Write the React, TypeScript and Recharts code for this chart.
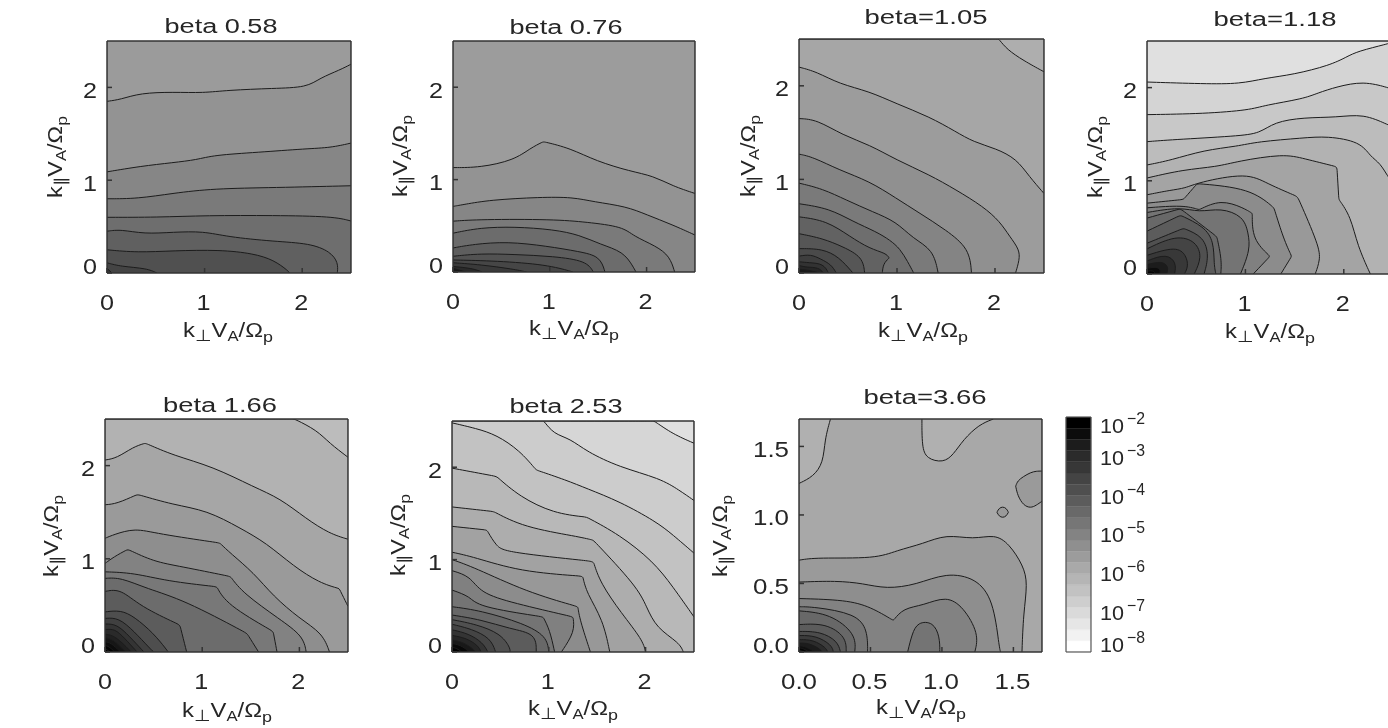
import React from "react";
import { ComposedChart, Area, XAxis, YAxis, ReferenceArea, Bar } from "recharts";

type Pt = [number, number];

// ---------- data: contour lines, outermost first ----------
const p1Contours: Pt[][] = [
  [[0,1.85],[0.14,1.87],[0.34,1.94],[0.68,1.95],[0.99,1.94],[1.23,1.97],[1.71,1.99],[2.05,2.0],[2.18,2.1],[2.39,2.19],[2.5,2.25]],
  [[0,1.09],[0.34,1.15],[0.68,1.19],[0.92,1.22],[1.09,1.27],[1.54,1.3],[2.05,1.34],[2.29,1.35],[2.5,1.4]],
  [[0,0.8],[0.31,0.8],[0.68,0.86],[1.09,0.91],[1.71,0.92],[2.5,0.94]],
  [[0,0.6],[0.51,0.6],[1.02,0.62],[1.71,0.62],[2.32,0.61],[2.5,0.56]],
  [[0,0.45],[0.14,0.47],[0.38,0.42],[0.68,0.44],[0.99,0.45],[1.23,0.39],[1.71,0.34],[2.08,0.32],[2.29,0.23],[2.37,0.11],[2.36,0]],
  [[0,0.25],[0.31,0.22],[0.68,0.24],[1.16,0.25],[1.5,0.21],[1.71,0.14],[1.86,0.02],[1.87,0]],
  [[0,0.11],[0.14,0.07],[0.41,0.05],[0.51,0]],
  [[0,0.05],[0.05,0]],
];
const p1Grays = ["#9b9b9b","#939393","#868686","#7a7a7a","#6e6e6e","#606060","#505050","#444444","#383838"];

const p2Contours: Pt[][] = [
  [[0,1.13],[0.28,1.13],[0.63,1.21],[0.8,1.34],[0.93,1.41],[0.94,1.41],[1.21,1.34],[1.48,1.2],[1.83,1.09],[2.07,1.04],[2.27,0.93],[2.5,0.85]],
  [[0,0.71],[0.11,0.73],[0.38,0.78],[0.9,0.81],[1.24,0.81],[1.45,0.76],[1.79,0.71],[2.0,0.62],[2.27,0.51],[2.5,0.4]],
  [[0,0.55],[0.28,0.57],[1.04,0.57],[1.38,0.54],[1.76,0.49],[1.86,0.39],[2.1,0.28],[2.24,0.17],[2.29,0]],
  [[0,0.42],[0.28,0.48],[0.63,0.49],[1.04,0.46],[1.31,0.4],[1.52,0.3],[1.76,0.22],[1.86,0.06],[1.89,0]],
  [[0,0.26],[0.21,0.3],[0.56,0.33],[0.97,0.28],[1.31,0.22],[1.52,0.17],[1.57,0]],
  [[0,0.17],[0.28,0.2],[0.63,0.19],[1.04,0.17],[1.38,0.12],[1.45,0]],
  [[0,0.13],[0.45,0.12],[0.97,0.08],[1.24,0]],
  [[0,0.1],[0.28,0.08],[0.63,0.03],[0.76,0]],
  [[0,0.06],[0.2,0.04],[0.3,0]],
  [[0,0.04],[0.13,0]],
  [[0,0.02],[0.07,0]],
];
const p2Grays = ["#9c9c9c","#939393","#868686","#7a7a7a","#6c6c6c","#5e5e5e","#525252","#464646","#3a3a3a","#2a2a2a","#181818","#080808"];

const p3Contours: Pt[][] = [
  [[0,2.5],[1.9,2.5],[2.03,2.5],[2.04,2.5],[2.12,2.39],[2.29,2.27],[2.5,2.15]],
  [[0,2.2],[0.18,2.15],[0.41,2.02],[0.72,1.94],[0.99,1.81],[1.33,1.67],[1.6,1.51],[1.78,1.4],[2.01,1.33],[2.22,1.22],[2.35,1.03],[2.5,0.85]],
  [[0,1.65],[0.18,1.64],[0.45,1.47],[0.72,1.37],[0.99,1.21],[1.33,1.05],[1.6,0.89],[1.88,0.71],[2.05,0.55],[2.15,0.39],[2.25,0.25],[2.25,0.14],[2.21,0]],
  [[0,1.27],[0.14,1.24],[0.41,1.1],[0.72,0.98],[0.99,0.8],[1.23,0.64],[1.5,0.46],[1.74,0.26],[1.76,0]],
  [[0,0.96],[0.24,0.9],[0.48,0.78],[0.76,0.65],[0.99,0.55],[1.16,0.37],[1.37,0.25],[1.42,0]],
  [[0,0.74],[0.31,0.69],[0.55,0.55],[0.79,0.44],[0.93,0.35],[1.03,0.26],[1.11,0.12],[1.17,0]],
  [[0,0.6],[0.28,0.56],[0.52,0.39],[0.72,0.26],[0.89,0.21],[0.92,0.16],[0.92,0.16],[0.86,0.1],[0.85,0]],
  [[0,0.42],[0.24,0.37],[0.45,0.28],[0.65,0.17],[0.67,0]],
  [[0,0.26],[0.24,0.26],[0.41,0.17],[0.55,0]],
  [[0,0.18],[0.12,0.2],[0.22,0.15],[0.33,0.09],[0.38,0]],
  [[0,0.12],[0.1,0.11],[0.25,0.1],[0.3,0]],
  [[0,0.08],[0.08,0.06],[0.2,0.06],[0.25,0]],
  [[0,0.04],[0.1,0.03],[0.2,0]],
];
const p3Grays = ["#aeaeae","#a6a6a6","#9c9c9c","#909090","#848484","#7a7a7a","#6e6e6e","#626262","#565656","#4a4a4a","#3e3e3e","#323232","#262626","#1a1a1a"];

const p4Contours: Pt[][] = [
  [[0,2.06],[0.58,2.04],[0.95,2.04],[1.19,2.1],[1.49,2.14],[1.86,2.24],[2.03,2.33],[2.14,2.39],[2.45,2.47],[2.5,2.49]],
  [[0,1.71],[0.58,1.72],[1.05,1.76],[1.19,1.81],[1.59,1.88],[1.73,1.94],[1.93,2.01],[2.2,2.07],[2.45,2.0],[2.5,1.98]],
  [[0,1.42],[0.24,1.44],[0.92,1.48],[1.15,1.51],[1.29,1.63],[1.59,1.68],[1.93,1.68],[2.2,1.72],[2.45,1.6],[2.5,1.58]],
  [[0,1.17],[0.24,1.22],[0.58,1.33],[0.92,1.37],[1.12,1.42],[1.59,1.46],[1.83,1.48],[2.17,1.42],[2.27,1.26],[2.37,1.19],[2.45,1.04],[2.5,0.98]],
  [[0,1.03],[0.37,1.12],[0.71,1.15],[0.92,1.21],[1.39,1.29],[1.59,1.24],[1.93,1.15],[1.93,1.15],[1.95,0.8],[1.95,0.8],[2.07,0.62],[2.14,0.3],[2.27,0]],
  [[0,0.85],[0.24,0.9],[0.39,0.92],[0.51,0.98],[1.02,1.09],[1.22,0.97],[1.53,0.83],[1.53,0.83],[1.75,0.3],[1.76,0.15],[1.71,0]],
  [[0,0.76],[0.37,0.8],[0.37,0.8],[0.51,0.97],[0.51,0.97],[1.05,0.92],[1.29,0.71],[1.29,0.71],[1.39,0.37],[1.47,0.19],[1.47,0.19],[1.36,0]],
  [[0,0.71],[0.37,0.74],[0.53,0.69],[0.53,0.69],[0.75,0.8],[0.98,0.71],[1.07,0.65],[1.07,0.65],[1.07,0.37],[1.25,0.19],[1.25,0.19],[1.08,0]],
  [[0,0.66],[0.34,0.72],[0.53,0.66],[0.75,0.71],[0.98,0.62],[1.03,0.44],[1.05,0.26],[0.95,0]],
  [[0,0.6],[0.34,0.7],[0.34,0.7],[0.71,0.4],[0.71,0.4],[0.76,0.15],[0.75,0]],
  [[0,0.46],[0.34,0.63],[0.34,0.63],[0.58,0.51],[0.68,0.35],[0.68,0.1],[0.7,0]],
  [[0,0.33],[0.37,0.49],[0.37,0.49],[0.58,0.4],[0.63,0.19],[0.58,0]],
  [[0,0.27],[0.3,0.42],[0.5,0.35],[0.56,0.18],[0.48,0]],
  [[0,0.2],[0.3,0.3],[0.4,0.2],[0.42,0.08],[0.38,0]],
  [[0,0.14],[0.2,0.22],[0.3,0.12],[0.28,0]],
  [[0,0.1],[0.15,0.14],[0.22,0.08],[0.2,0]],
  [[0,0.06],[0.1,0.08],[0.14,0.04],[0.13,0]],
  [[0,0.03],[0.07,0.04],[0.08,0]],
];
const p4Grays = ["#e0e0e0","#d4d4d4","#c8c8c8","#bcbcbc","#b2b2b2","#a4a4a4","#999999","#8c8c8c","#808080","#747474","#686868","#5c5c5c","#505050","#444444","#383838","#2a2a2a","#1c1c1c","#0c0c0c","#040404"];

const p5Contours: Pt[][] = [
  [[0,2.5],[1.8,2.5],[1.94,2.5],[1.95,2.5],[2.18,2.38],[2.31,2.24],[2.5,2.09]],
  [[0,2.06],[0.12,2.08],[0.29,2.2],[0.41,2.24],[0.42,2.24],[0.7,2.11],[1.11,1.99],[1.53,1.77],[1.8,1.65],[2.07,1.43],[2.31,1.27],[2.5,1.21]],
  [[0,1.58],[0.12,1.59],[0.33,1.69],[0.34,1.69],[0.7,1.58],[1.05,1.52],[1.39,1.33],[1.66,1.17],[1.94,0.92],[2.21,0.74],[2.41,0.68],[2.41,0.68],[2.5,0.49]],
  [[0,1.22],[0.09,1.26],[0.31,1.33],[0.53,1.27],[1.18,1.17],[1.18,1.17],[1.29,1.06],[1.53,0.85],[1.73,0.6],[2.0,0.36],[2.24,0.2],[2.31,0]],
  [[0,0.95],[0.09,1.02],[0.23,1.1],[0.24,1.1],[0.5,0.97],[0.77,0.92],[1.29,0.81],[1.29,0.81],[1.42,0.63],[1.8,0.35],[2.04,0.17],[2.07,0]],
  [[0,0.86],[0.29,0.85],[0.64,0.76],[1.15,0.7],[1.15,0.7],[1.25,0.51],[1.73,0.22],[1.73,0.22],[1.77,0]],
  [[0,0.79],[0.16,0.8],[0.43,0.68],[0.81,0.56],[1.46,0.2],[1.46,0.2],[1.58,0]],
  [[0,0.65],[0.16,0.68],[0.36,0.49],[0.77,0.29],[0.77,0.29],[0.84,0]],
  [[0,0.43],[0.16,0.45],[0.3,0.38],[0.5,0.2],[0.63,0.03],[0.65,0]],
  [[0,0.36],[0.14,0.37],[0.3,0.22],[0.46,0.04],[0.5,0]],
  [[0,0.3],[0.12,0.3],[0.25,0.17],[0.4,0]],
  [[0,0.24],[0.1,0.25],[0.2,0.15],[0.33,0]],
  [[0,0.19],[0.1,0.18],[0.27,0]],
  [[0,0.15],[0.08,0.14],[0.21,0]],
  [[0,0.11],[0.06,0.1],[0.16,0]],
  [[0,0.07],[0.04,0.06],[0.1,0]],
  [[0,0.04],[0.05,0]],
];
const p5Grays = ["#bcbcbc","#b2b2b2","#a6a6a6","#9a9a9a","#8e8e8e","#828282","#787878","#6c6c6c","#5c5c5c","#4e4e4e","#404040","#343434","#2a2a2a","#202020","#161616","#0c0c0c","#040404","#000000"];

const p6Contours: Pt[][] = [
  [[0,2.5],[1.9,2.5],[2.08,2.5],[2.09,2.5],[2.28,2.36],[2.5,2.26]],
  [[0,2.5],[0.8,2.5],[0.94,2.5],[0.95,2.5],[1.05,2.36],[1.22,2.31],[1.39,2.17],[1.73,2.0],[2.15,1.88],[2.35,1.75],[2.5,1.64]],
  [[0,2.48],[0.25,2.42],[0.46,2.35],[0.7,2.18],[0.87,1.97],[0.87,1.97],[1.18,1.86],[1.39,1.77],[1.73,1.63],[2.11,1.41],[2.28,1.27],[2.5,1.07]],
  [[0,1.99],[0.46,1.9],[0.46,1.9],[0.7,1.68],[1.05,1.5],[1.39,1.46],[1.39,1.46],[1.73,1.27],[2.08,0.98],[2.28,0.71],[2.5,0.38]],
  [[0,1.57],[0.43,1.52],[0.43,1.52],[0.74,1.35],[1.3,1.25],[1.46,1.21],[1.46,1.21],[1.91,0.71],[2.01,0.49],[2.11,0.26],[2.35,0.1],[2.39,0]],
  [[0,1.36],[0.36,1.32],[0.36,1.32],[0.46,1.14],[0.56,1.08],[1.46,0.98],[1.46,0.98],[1.53,0.75],[1.75,0.42],[1.97,0.13],[2.0,0]],
  [[0,1.08],[0.22,1.03],[0.7,0.87],[1.35,0.82],[1.35,0.82],[1.39,0.64],[1.56,0.35],[1.63,0]],
  [[0,1.0],[0.22,0.92],[0.77,0.65],[1.3,0.49],[1.3,0.49],[1.32,0.35],[1.43,0]],
  [[0,0.88],[0.19,0.82],[0.29,0.64],[0.63,0.53],[1.25,0.38],[1.25,0.38],[1.27,0.22],[1.13,0]],
  [[0,0.67],[0.19,0.6],[0.26,0.49],[0.94,0.38],[0.94,0.38],[1.01,0.24],[1.06,0]],
  [[0,0.49],[0.29,0.45],[0.74,0.31],[0.98,0.17],[1.0,0]],
  [[0,0.4],[0.3,0.35],[0.6,0.25],[0.87,0.2],[0.87,0]],
  [[0,0.35],[0.25,0.3],[0.5,0.2],[0.6,0.05],[0.6,0]],
  [[0,0.3],[0.2,0.25],[0.4,0.15],[0.45,0]],
  [[0,0.24],[0.17,0.2],[0.32,0.1],[0.37,0]],
  [[0,0.18],[0.15,0.15],[0.27,0.07],[0.3,0]],
  [[0,0.13],[0.1,0.11],[0.2,0.05],[0.24,0]],
  [[0,0.09],[0.07,0.08],[0.15,0.03],[0.17,0]],
  [[0,0.05],[0.05,0.04],[0.1,0]],
];
const p6Grays = ["#e0e0e0","#d6d6d6","#cccccc","#c2c2c2","#b8b8b8","#adadad","#a2a2a2","#989898","#8c8c8c","#808080","#747474","#686868","#5c5c5c","#505050","#444444","#343434","#262626","#181818","#080808","#000000"];

const p7Contours: Pt[][] = [
  [[0,0.67],[0.12,0.69],[0.54,0.68],[0.68,0.74],[0.87,0.79],[1.03,0.86],[1.22,0.82],[1.37,0.86],[1.47,0.79],[1.57,0.63],[1.6,0.5],[1.57,0.28],[1.56,0]],
  [[0,0.51],[0.26,0.52],[0.45,0.5],[0.61,0.46],[0.82,0.49],[1.03,0.58],[1.24,0.54],[1.36,0.38],[1.4,0.04],[1.41,0]],
  [[0,0.39],[0.33,0.38],[0.5,0.33],[0.66,0.23],[0.66,0.23],[0.73,0.32],[0.87,0.34],[1.03,0.41],[1.15,0.33],[1.26,0.13],[1.23,0]],
  [[0.76,0],[0.79,0.13],[0.83,0.22],[0.94,0.22],[0.985,0.11],[0.985,0]],
  [[0,0.33],[0.1,0.33],[0.4,0.28],[0.48,0.16],[0.48,0]],
  [[0,0.3],[0.22,0.28],[0.4,0.13],[0.39,0]],
  [[0,0.2],[0.19,0.21],[0.33,0.11],[0.33,0]],
  [[0,0.15],[0.15,0.15],[0.27,0.08],[0.29,0]],
  [[0,0.12],[0.12,0.12],[0.23,0.05],[0.24,0]],
  [[0,0.09],[0.1,0.09],[0.19,0.03],[0.2,0]],
  [[0,0.065],[0.07,0.065],[0.15,0.02],[0.16,0]],
  [[0,0.045],[0.05,0.04],[0.11,0]],
  [[0,0.03],[0.03,0.025],[0.07,0]],
  [[0,0.015],[0.035,0]],
];
const p7Grays = ["#a8a8a8","#9a9a9a","#8e8e8e","#828282","#747474","#747474","#686868","#5c5c5c","#4c4c4c","#3c3c3c","#2c2c2c","#1c1c1c","#101010","#060606","#000000"];
// regions lighter than their surroundings, hanging from the top edge
const p7TopIslands: Pt[][] = [
  [[0,1.23],[0.1,1.28],[0.17,1.38],[0.18,1.55],[0.22,1.7]],
  [[0.86,1.7],[0.86,1.5],[0.89,1.41],[1.01,1.38],[1.08,1.44],[1.15,1.55],[1.26,1.66],[1.36,1.7]],
];
// closed darker islands: [x, low, high]
const p7ClosedIslands: [number, number, number][][] = [
  [[1.516,1.21,1.21],[1.53,1.14,1.25],[1.57,1.07,1.28],[1.62,1.05,1.31],[1.66,1.07,1.32],[1.7,1.1,1.32]],
  [[1.385,1.02,1.02],[1.4,0.99,1.05],[1.425,0.98,1.06],[1.45,0.99,1.05],[1.465,1.02,1.02]],
];
const p7TopGray = "#b0b0b0";
const p7IslandGray = "#9a9a9a";

const majorTicks25 = [0, 1, 2];
const minorTicks25 = [0.2,0.4,0.6,0.8,1.2,1.4,1.6,1.8,2.2,2.4];
const majorTicks17 = [0, 0.5, 1, 1.5];
const minorTicks17 = [0.1,0.2,0.3,0.4,0.6,0.7,0.8,0.9,1.1,1.2,1.3,1.4,1.6];

const colorbarGrays = ["#ffffff","#f2f2f2","#e6e6e6","#dadada","#cecece","#c2c2c2","#b5b5b5","#a9a9a9","#9c9c9c","#8f8f8f","#838383","#767676","#696969","#5c5c5c","#4f4f4f","#444444","#373737","#2b2b2b","#1c1c1c","#0c0c0c","#000000"];
const colorbarTicks = [0, 1, 2, 3, 4, 5, 6];
const colorbarTop = 6.05;
const colorbarBand = colorbarTop / colorbarGrays.length;
const colorbarRow = [Object.fromEntries(colorbarGrays.map((_, i) => ["b" + i, colorbarBand]))];

// ---------- layout ----------
const FONT = "'Liberation Sans', Arial, sans-serif";
const INK = "#262626";
const ML = 90, MT = 60, MR = 20, MB = 85;
const THIN = 0.01; // an axis needs a size above zero to be drawn

type Panel = {
  l: number; r: number; t: number; b: number;
  title: string; tcx: number; tbase: number; tw: number;
  xcx: number; xbase: number; ybase: number; ycy: number;
  max: number; major: number[]; minor: number[];
  contours: Pt[][]; grays: string[]; fmt: (v: number) => string;
};
const int = (v: number) => String(v);
const one = (v: number) => v.toFixed(1);
const panels: Panel[] = [
  { l:107,r:351,t:41,b:273,title:"beta 0.58",tcx:221,tbase:33,tw:113,xcx:228,xbase:337,ybase:62,ycy:157,max:2.5,major:majorTicks25,minor:minorTicks25,contours:p1Contours,grays:p1Grays,fmt:int },
  { l:453,r:695,t:41,b:272,title:"beta 0.76",tcx:566,tbase:34,tw:113,xcx:574,xbase:335,ybase:407,ycy:156,max:2.5,major:majorTicks25,minor:minorTicks25,contours:p2Contours,grays:p2Grays,fmt:int },
  { l:799,r:1044,t:39,b:273,title:"beta=1.05",tcx:926,tbase:24,tw:123,xcx:923,xbase:337,ybase:755,ycy:156,max:2.5,major:majorTicks25,minor:minorTicks25,contours:p3Contours,grays:p3Grays,fmt:int },
  { l:1147,r:1393,t:41,b:274,title:"beta=1.18",tcx:1275,tbase:26,tw:123,xcx:1270,xbase:338,ybase:1102,ycy:157,max:2.5,major:majorTicks25,minor:minorTicks25,contours:p4Contours,grays:p4Grays,fmt:int },
  { l:105,r:348,t:419,b:652,title:"beta 1.66",tcx:220,tbase:412,tw:114,xcx:227,xbase:717,ybase:58,ycy:536,max:2.5,major:majorTicks25,minor:minorTicks25,contours:p5Contours,grays:p5Grays,fmt:int },
  { l:452,r:694,t:421,b:652,title:"beta 2.53",tcx:566,tbase:413,tw:113,xcx:573,xbase:715,ybase:405,ycy:535,max:2.5,major:majorTicks25,minor:minorTicks25,contours:p6Contours,grays:p6Grays,fmt:int },
  { l:799,r:1042,t:419,b:652,title:"beta=3.66",tcx:925,tbase:404,tw:123,xcx:921,xbase:714,ybase:727,ycy:536,max:1.7,major:majorTicks17,minor:minorTicks17,contours:p7Contours,grays:p7Grays,fmt:one },
];

const labelWidth = (s: string) => (s.length === 1 ? 14 : 36);

const XTick = (fmt: (v: number) => string) => (props: any) => {
  const s = fmt(props.payload.value);
  return (
    <text x={props.x - (props.payload.value > 0 ? 1 : 0)} y={props.y + 42} textAnchor="middle" fontFamily={FONT} fontSize={22.5} fill={INK} textLength={labelWidth(s)} lengthAdjust="spacingAndGlyphs">{s}</text>
  );
};
const YTick = (fmt: (v: number) => string) => (props: any) => {
  const s = fmt(props.payload.value);
  const dy = props.payload.value === 0 ? 1.5 : 10.5;
  return (
    <text x={props.x - 15} y={props.y + dy} textAnchor="end" fontFamily={FONT} fontSize={22.5} fill={INK} textLength={labelWidth(s)} lengthAdjust="spacingAndGlyphs">{s}</text>
  );
};

const AxisName = ({ x, y, rotate, sym }: { x: number; y: number; rotate?: boolean; sym: string }) => (
  <text x={x} y={y} textAnchor="middle" fontFamily={FONT} fontSize={20} fill={INK} textLength={rotate ? 82 : 90} lengthAdjust="spacingAndGlyphs" transform={rotate ? `rotate(-90 ${x} ${y})` : undefined}>
    k<tspan dy={4} fontSize={16}>{sym}</tspan><tspan dy={-4}>V</tspan><tspan dy={4} fontSize={14}>A</tspan><tspan dy={-4}>/Ω</tspan><tspan dy={5} fontSize={15}>p</tspan>
  </text>
);

const PanelChart = ({ p }: { p: Panel }) => {
  const cx = p.l - ML, cy = p.t - MT;
  const W = p.r - p.l + ML + MR, H = p.b - p.t + MT + MB;
  const axis = { type: "number" as const, domain: [0, p.max], allowDataOverflow: true, stroke: INK, interval: 0 as const, tickMargin: 0 };
  const xProps = { ...axis, height: THIN };
  const yProps = { ...axis, width: THIN };
  const line = { stroke: "#333333", strokeWidth: 1.5 };
  const titleLabel = () => (
    <g>
      <text x={p.tcx - cx} y={p.tbase - cy} textAnchor="middle" fontFamily={FONT} fontSize={20} fill={INK} textLength={p.tw} lengthAdjust="spacingAndGlyphs">{p.title}</text>
    </g>
  );
  const xName = () => <AxisName x={p.xcx - cx} y={p.xbase - cy} sym="⊥" />;
  const yName = () => <AxisName x={p.ybase - cx} y={p.ycy - cy} rotate sym="∥" />;
  const isP7 = p.contours === p7Contours;
  return (
    <div style={{ position: "absolute", left: cx, top: cy, width: W, height: H }}>
      <ComposedChart width={W} height={H} margin={{ left: ML, top: MT, right: MR, bottom: MB }}>
        <ReferenceArea xAxisId="b" yAxisId="l" x1={0} x2={p.max} y1={0} y2={p.max} fill={p.grays[0]} fillOpacity={1} stroke="none" />
        {isP7 && p7TopIslands.map((pts, i) => (
          <Area key={"top" + i} xAxisId="b" yAxisId="l" data={pts.map(([x, y]) => ({ x, y }))} dataKey="y" baseValue={p.max} type="basis" fill={p7TopGray} fillOpacity={1} stroke="#1c1c1c" strokeWidth={1} dot={false} activeDot={false} isAnimationActive={false} />
        ))}
        {p.contours.map((pts, i) => (
          <Area key={i} xAxisId="b" yAxisId="l" data={pts.map(([x, y]) => ({ x, y }))} dataKey="y" baseValue={0} type="basis" fill={p.grays[i + 1]} fillOpacity={1} stroke="#1c1c1c" strokeWidth={1} dot={false} activeDot={false} isAnimationActive={false} />
        ))}
        {isP7 && p7ClosedIslands.map((pts, i) => (
          <Area key={"closed" + i} xAxisId="b" yAxisId="l" data={pts.map(([x, lo, hi]) => ({ x, y: [lo, hi] }))} dataKey="y" type="basis" fill={p7IslandGray} fillOpacity={1} stroke="#1c1c1c" strokeWidth={1} dot={false} activeDot={false} isAnimationActive={false} />
        ))}
        <XAxis {...xProps} xAxisId="b" dataKey="x" orientation="bottom" ticks={p.major} tickSize={-5} tick={XTick(p.fmt)} axisLine={line} tickLine={line} label={xName} />
        <XAxis {...xProps} xAxisId="bm" orientation="bottom" ticks={p.minor} tickSize={-3} tick={false} axisLine={false} tickLine={line} />
        <XAxis {...xProps} xAxisId="t" orientation="top" ticks={p.major} tickSize={-5} tick={false} axisLine={line} tickLine={line} label={titleLabel} />
        <XAxis {...xProps} xAxisId="tm" orientation="top" ticks={p.minor} tickSize={-3} tick={false} axisLine={false} tickLine={line} />
        <YAxis {...yProps} yAxisId="l" orientation="left" ticks={p.major} tickSize={-5} tick={YTick(p.fmt)} axisLine={line} tickLine={line} label={yName} />
        <YAxis {...yProps} yAxisId="lm" orientation="left" ticks={p.minor} tickSize={-3} tick={false} axisLine={false} tickLine={line} />
        <YAxis {...yProps} yAxisId="r" orientation="right" ticks={p.major} tickSize={-5} tick={false} axisLine={line} tickLine={line} />
        <YAxis {...yProps} yAxisId="rm" orientation="right" ticks={p.minor} tickSize={-3} tick={false} axisLine={false} tickLine={line} />
      </ComposedChart>
    </div>
  );
};

const ColorTick = (props: any) => {
  const v = props.payload.value as number;
  const exp = v - 8;
  const shift = v === 6 ? 7 : v === 0 ? -7 : 0;
  const base = props.y + shift + 7;
  return (
    <g fontFamily={FONT} fill={INK}>
      <text x={props.x + 34} y={base} fontSize={21} textLength={24} lengthAdjust="spacingAndGlyphs">10</text>
      <text x={props.x + 61} y={base - 9} fontSize={16.5} textLength={18} lengthAdjust="spacingAndGlyphs">{"\u2212" + Math.abs(exp)}</text>
    </g>
  );
};

const Colorbar = () => {
  const l = 1066, r = 1091, t = 417, b = 652;
  const cbMR = 70, cbML = 10, cbMT = 10, cbMB = 10;
  const W = r - l + cbML + cbMR, H = b - t + cbMT + cbMB;
  const line = { stroke: "#555555", strokeWidth: 1.2 };
  return (
    <div style={{ position: "absolute", left: l - cbML, top: t - cbMT, width: W, height: H }}>
      <ComposedChart width={W} height={H} data={colorbarRow} margin={{ left: cbML, top: cbMT, right: cbMR, bottom: cbMB }} barCategoryGap={0} barGap={0}>
        <XAxis type="category" xAxisId="x" height={THIN} tick={false} tickLine={false} axisLine={false} padding={{ left: 0, right: 0 }} />
        <YAxis type="number" yAxisId="y" width={THIN} domain={[0, colorbarTop]} allowDataOverflow ticks={colorbarTicks} interval={0} tickSize={0} tickMargin={0} tickLine={false} axisLine={false} tick={ColorTick} />
        {colorbarGrays.map((g, i) => (
          <Bar key={i} xAxisId="x" yAxisId="y" dataKey={"b" + i} stackId="cb" fill={g} stroke={g} strokeWidth={0.3} isAnimationActive={false} />
        ))}
        <XAxis type="category" xAxisId="xb" orientation="bottom" height={THIN} tick={false} tickLine={false} axisLine={line} />
        <XAxis type="category" xAxisId="xt" orientation="top" height={THIN} tick={false} tickLine={false} axisLine={line} />
        <YAxis type="number" yAxisId="yl" orientation="left" width={THIN} domain={[0, colorbarTop]} tick={false} tickLine={false} axisLine={line} />
        <YAxis type="number" yAxisId="yr" orientation="right" width={THIN} domain={[0, colorbarTop]} tick={false} tickLine={false} axisLine={line} />
      </ComposedChart>
    </div>
  );
};

export default function App() {
  return (
    <div style={{ position: "absolute", left: 0, top: 0, width: 1388, height: 728, overflow: "hidden", background: "#ffffff", filter: "blur(0.5px)" }}>
      {panels.map((p, i) => <PanelChart key={i} p={p} />)}
      <Colorbar />
    </div>
  );
}
